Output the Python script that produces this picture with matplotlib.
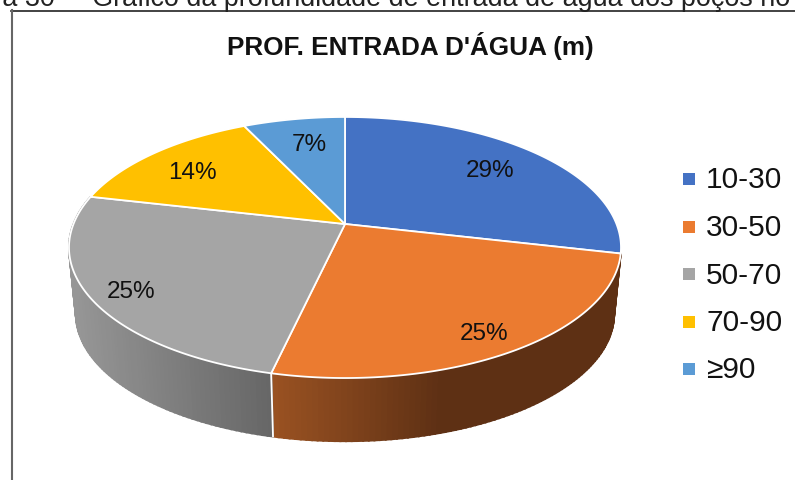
import numpy as np, matplotlib
matplotlib.use("Agg")
import matplotlib.pyplot as plt
from matplotlib.patches import Polygon, Rectangle

plt.rcParams['font.family'] = ['Liberation Sans', 'DejaVu Sans']

# data
categories = ["10-30", "30-50", "50-70", "70-90", "≥90"]
values = [28.6, 25.0, 25.0, 14.3, 7.1]
pct_labels = ["29%", "25%", "25%", "14%", "7%"]
colors = ["#4472C4", "#EB7B30", "#A5A5A5", "#FFC000", "#5B9BD5"]
title = "PROF. ENTRADA D'ÁGUA (m)"
caption = "Figura 30 –  Gráfico da profundidade de entrada de água dos poços no Cariri"

# pie layout in pixels, perspective tilt like the excel 3d pie
CX, CY, RX, RY, K = 345, 224, 271.5, 126.3, 0.18
DROP, SHRINK = 67, 0.975
label_xy = [(490, 171), (484, 334), (131, 292), (192, 173), (309, 145)]
wall_ramps = {1: ([273, 440], [(154, 82, 34), (94, 48, 20)]),
              2: ([76, 272], [(150, 150, 150), (102, 102, 102)])}

def rim(theta, scale=1.0, drop=0.0):
    # theta clockwise from 12 o'clock
    u, v = np.sin(theta), np.cos(theta)
    d = 1 + K * v
    return CX + scale * RX * u / d, CY + drop - scale * RY * v / d

fig = plt.figure(figsize=(7.95, 4.8), dpi=100)
ax = fig.add_axes([0, 0, 1, 1])
ax.set_xlim(0, 795); ax.set_ylim(480, 0); ax.axis("off")

edges = np.r_[0, np.cumsum(values)] / np.sum(values) * 2 * np.pi

# side wall, only the two front slices show it
for i, (xs, cs) in wall_ramps.items():
    th = np.linspace(edges[i], edges[i + 1], 90)
    for a, b in zip(th[:-1], th[1:]):
        x1, y1 = rim(np.array([a, b]))
        x2, y2 = rim(np.array([b, a]), SHRINK, DROP)
        mid = (x1.mean() + x2.mean()) / 2
        col = [np.interp(mid, xs, [c[j] for c in cs]) / 255 for j in range(3)]
        ax.add_patch(Polygon(np.c_[np.r_[x1, x2], np.r_[y1, y2]], fc=col, ec=col, lw=1.4, zorder=2))
x1, y1 = rim(edges[2]); x2, y2 = rim(edges[2], SHRINK, DROP)
ax.plot([x1, x2], [y1, y2], color="white", lw=1.3, zorder=3)

# top face
for i in range(len(values)):
    th = np.linspace(edges[i], edges[i + 1], 200)
    x, y = rim(th)
    ax.add_patch(Polygon(np.c_[np.r_[CX, x], np.r_[CY, y]], fc=colors[i], ec="white", lw=1.3, zorder=4))
    ax.text(*label_xy[i], pct_labels[i], fontsize=17.5, color="#111111", ha="center", va="center", zorder=5)

# legend
for i, name in enumerate(categories):
    ly = 179 + i * 47.5
    ax.add_patch(Rectangle((683, ly - 6), 12, 12, fc=colors[i], ec="none"))
    ax.text(706, ly + 1.5, name, fontsize=21.5, color="#111111", ha="left", va="center")

ax.text(410, 46, title, fontsize=18.8, fontweight="bold", color="#111111", ha="center", va="center")
ax.text(-59, 6, caption, fontsize=19.4, color="#222222", ha="left", va="baseline")

# chart frame
ax.plot([11, 795], [10.5, 10.5], color="#222222", lw=1.2)
ax.plot([11.5, 11.5], [10, 480], color="#666666", lw=1.5)

fig.savefig("out.png", dpi=100)
